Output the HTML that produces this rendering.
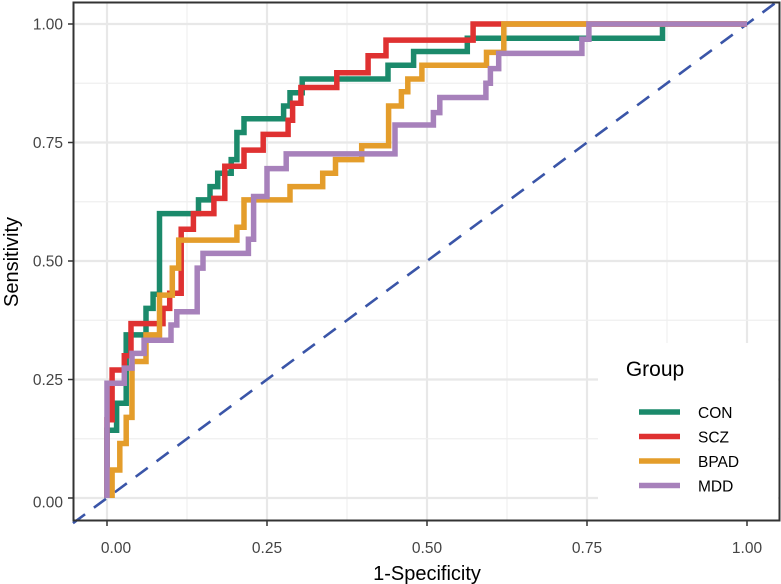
<!DOCTYPE html>
<html><head><meta charset="utf-8"><style>
body{margin:0;background:#fff;}
svg{display:block;font-family:"Liberation Sans",sans-serif;}
</style></head><body>
<svg id="chart" width="781" height="584" viewBox="0 0 781 584">
<rect x="0" y="0" width="781" height="584" fill="#fff"/>
<g id="grid"></g>
<g id="curves"></g>
<rect x="598" y="343" width="180" height="177" fill="#fff"/>
<rect x="73.5" y="2.5" width="706" height="518" fill="none" stroke="#333" stroke-width="2"/>
<g id="axes"></g>
<text x="12" y="262" transform="rotate(-90 12 262)" text-anchor="middle" dominant-baseline="central" font-size="20" fill="#000">Sensitivity</text>
<text x="427" y="580" text-anchor="middle" font-size="20" fill="#000">1-Specificity</text>
<g>
<text x="655" y="376" text-anchor="middle" font-size="21" fill="#000">Group</text>
<g id="legend-items"></g>
</g>
</svg>
<script>
const xTicks=[0,0.25,0.5,0.75,1];
const yTicks=[0,0.25,0.5,0.75,1];
const xTickLabels=["0.00","0.25","0.50","0.75","1.00"];
const yTickLabels=["0.00","0.25","0.50","0.75","1.00"];
const groups=["CON","SCZ","BPAD","MDD"];
const colors=["#1b8a6b","#df3131","#e49d2b","#a781bb"];
const conFpr=[0,0,0.015,0.015,0.03,0.03,0.061,0.061,0.072,0.072,0.082,0.082,0.143,0.143,0.161,0.161,0.173,0.173,0.194,0.194,0.203,0.203,0.214,0.214,0.276,0.276,0.286,0.286,0.305,0.305,0.439,0.439,0.479,0.479,0.563,0.563,0.868,0.868];
const conTpr=[0,0.143,0.143,0.2,0.2,0.344,0.344,0.40,0.40,0.43,0.43,0.60,0.60,0.629,0.629,0.657,0.657,0.685,0.685,0.714,0.714,0.771,0.771,0.80,0.80,0.827,0.827,0.855,0.855,0.884,0.884,0.913,0.913,0.942,0.942,0.97,0.97,1.0];
const sczFpr=[0,0,0.008,0.008,0.027,0.027,0.0375,0.0375,0.0875,0.0875,0.098,0.098,0.116,0.116,0.135,0.135,0.167,0.167,0.184,0.184,0.214,0.214,0.244,0.244,0.283,0.283,0.29,0.29,0.303,0.303,0.359,0.359,0.408,0.408,0.436,0.436,0.572,0.572,1.0];
const sczTpr=[0,0.165,0.165,0.27,0.27,0.30,0.30,0.368,0.368,0.40,0.40,0.432,0.432,0.567,0.567,0.60,0.60,0.632,0.632,0.70,0.70,0.734,0.734,0.767,0.767,0.797,0.797,0.833,0.833,0.866,0.866,0.897,0.897,0.933,0.933,0.966,0.966,1.0,1.0];
const bpadFpr=[0.008,0.008,0.02,0.02,0.03,0.03,0.039,0.039,0.061,0.061,0.082,0.082,0.102,0.102,0.112,0.112,0.203,0.203,0.214,0.214,0.286,0.286,0.337,0.337,0.357,0.357,0.398,0.398,0.44,0.44,0.46,0.46,0.47,0.47,0.492,0.492,0.593,0.593,0.62,0.62,1.0];
const bpadTpr=[0,0.059,0.059,0.115,0.115,0.17,0.17,0.288,0.288,0.344,0.344,0.428,0.428,0.485,0.485,0.544,0.544,0.571,0.571,0.629,0.629,0.657,0.657,0.685,0.685,0.714,0.714,0.743,0.743,0.827,0.827,0.857,0.857,0.884,0.884,0.913,0.913,0.94,0.94,1.0,1.0];
const mddFpr=[0,0,0.027,0.027,0.039,0.039,0.058,0.058,0.1,0.1,0.109,0.109,0.141,0.141,0.15,0.15,0.221,0.221,0.229,0.229,0.25,0.25,0.28,0.28,0.45,0.45,0.51,0.51,0.52,0.52,0.592,0.592,0.599,0.599,0.612,0.612,0.742,0.742,0.753,0.753,1.0];
const mddTpr=[0,0.242,0.242,0.274,0.274,0.305,0.305,0.333,0.333,0.365,0.365,0.393,0.393,0.485,0.485,0.516,0.516,0.546,0.546,0.636,0.636,0.695,0.695,0.726,0.726,0.787,0.787,0.813,0.813,0.845,0.845,0.875,0.875,0.906,0.906,0.938,0.938,0.968,0.968,1.0,1.0];
const series=[[conFpr,conTpr],[sczFpr,sczTpr],[bpadFpr,bpadTpr],[mddFpr,mddTpr]];

const NS="http://www.w3.org/2000/svg";
const X0=107,XU=640,Y0=498,YU=474;
const sx=v=>X0+v*XU, sy=v=>Y0-v*YU;
function mk(tag,attrs,parent){const e=document.createElementNS(NS,tag);for(const k in attrs)e.setAttribute(k,attrs[k]);parent.appendChild(e);return e;}
const grid=document.getElementById('grid');
for(let i=0;i<xTicks.length;i++){
  const v=xTicks[i];
  const l=mk('line',{x1:sx(v),x2:sx(v),y1:2,y2:520,stroke:'#e8e8e8','stroke-width':2.2},grid);
  
  
  if(i<xTicks.length-1){const m=(v+xTicks[i+1])/2;
    const l2=mk('line',{x1:sx(m),x2:sx(m),y1:2,y2:520,stroke:'#efefef','stroke-width':1.2},grid);
    
    }
}
for(let i=0;i<yTicks.length;i++){
  const v=yTicks[i];
  const l=mk('line',{x1:73,x2:780,y1:sy(v),y2:sy(v),stroke:'#e8e8e8','stroke-width':2.2},grid);
  
  
  if(i<yTicks.length-1){const m=(v+yTicks[i+1])/2;
    const l2=mk('line',{x1:73,x2:780,y1:sy(m),y2:sy(m),stroke:'#efefef','stroke-width':1.2},grid);
    
    }
}
const curves=document.getElementById('curves');
const dmin=(73-X0)/XU, dmax=(780-X0)/XU;
const diag=mk('line',{x1:sx(dmin),y1:sy(dmin),x2:sx(dmax),y2:sy(dmax),stroke:'#3a55a8','stroke-width':2.6,'stroke-dasharray':'15 11'},curves);


series.forEach((s,i)=>{
  const pts=s[0].map((f,j)=>sx(f).toFixed(1)+','+sy(s[1][j]).toFixed(1)).join(' ');
  const p=mk('polyline',{points:pts,fill:'none',stroke:colors[i],'stroke-width':5.5,'stroke-linejoin':'miter'},curves);
  
  
});
const axes=document.getElementById('axes');
xTicks.forEach((v,i)=>{
  const t=mk('line',{x1:sx(v),x2:sx(v),y1:521,y2:526,stroke:'#333','stroke-width':1.5},axes);
  
  
  const tx=mk('text',{x:sx(v)+(i==0?9:0),y:553,'text-anchor':'middle','font-size':15.5,fill:'#444'},axes);
  tx.textContent=xTickLabels[i];
  
  
});
yTicks.forEach((v,i)=>{
  const t=mk('line',{x1:68,x2:73,y1:sy(v),y2:sy(v),stroke:'#333','stroke-width':1.5},axes);
  
  
  const tx=mk('text',{x:63,y:sy(v)+5.5+(i==0?4:0),'text-anchor':'end','font-size':15.5,fill:'#444'},axes);
  tx.textContent=yTickLabels[i];
  
  
});
const li=document.getElementById('legend-items');
groups.forEach((g,i)=>{
  const y=412+i*24.5;
  const l=mk('line',{x1:639,x2:680,y1:y,y2:y,stroke:colors[i],'stroke-width':5.5},li);
  
  
  const t=mk('text',{x:698,y:y+6,'font-size':15.5,fill:'#000'},li);
  t.textContent=g;
  
  
});
</script>
</body></html>
